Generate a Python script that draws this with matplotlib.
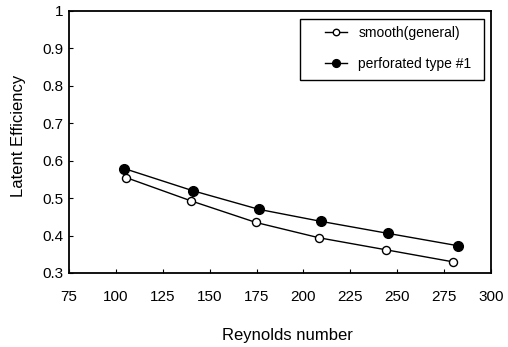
import matplotlib
matplotlib.use("Agg")
import matplotlib.pyplot as plt
from matplotlib.patches import Rectangle

plt.rcParams['font.family'] = ['Liberation Sans', 'DejaVu Sans']

smooth_x = [105.4, 139.9, 174.7, 208.4, 244.0, 279.5]
smooth_y = [0.555, 0.493, 0.435, 0.394, 0.362, 0.330]
perf_x = [104.5, 140.9, 176.3, 209.3, 244.9, 282.2]
perf_y = [0.579, 0.520, 0.470, 0.438, 0.406, 0.373]
xticks = [75, 100, 125, 150, 175, 200, 225, 250, 275, 300]
yticks = [0.3, 0.4, 0.5, 0.6, 0.7, 0.8, 0.9, 1.0]
ytick_labels = ['0.3', '0.4', '0.5', '0.6', '0.7', '0.8', '0.9', '1']

fig = plt.figure(figsize=(5.08, 3.47), dpi=100)
ax = fig.add_axes([69/508, 1-273/347, (491-69)/508, (273-11)/347])

ax.plot(smooth_x, smooth_y, color='black', lw=1.0, marker='o', ms=5.8,
        mfc='white', mec='black', mew=1.0, label='smooth(general)')
ax.plot(perf_x, perf_y, color='black', lw=1.0, marker='o', ms=7,
        mfc='black', mec='black', label='perforated type #1')

ax.set_xlim(75, 300)
ax.set_ylim(0.3, 1.0)
ax.set_xticks(xticks)
ax.set_yticks(yticks)
ax.set_yticklabels(ytick_labels)
ax.tick_params(direction='in', length=3, width=0.8, labelsize=11)
ax.tick_params(axis='x', pad=12)
ax.tick_params(axis='y', pad=4)
for s in ax.spines.values():
    s.set_linewidth(1.3)

ax.set_xlabel('Reynolds number', fontsize=12)
ax.set_ylabel('Latent Efficiency', fontsize=12)
ax.xaxis.set_label_coords(0.518, -0.21)
ax.yaxis.set_label_coords(-0.103, 0.523)

leg = ax.legend(loc='upper left', bbox_to_anchor=(0.607, 0.943), fontsize=10,
                frameon=False, borderpad=0, borderaxespad=0,
                labelspacing=1.2, handlelength=1.6,
                handletextpad=0.8, markerscale=0.8)
ax.add_patch(Rectangle((0.547, 0.737), 0.983 - 0.547, 0.969 - 0.737,
                       transform=ax.transAxes, fill=False, edgecolor='black',
                       lw=1.0, zorder=5))

fig.savefig('out.png', dpi=100)
